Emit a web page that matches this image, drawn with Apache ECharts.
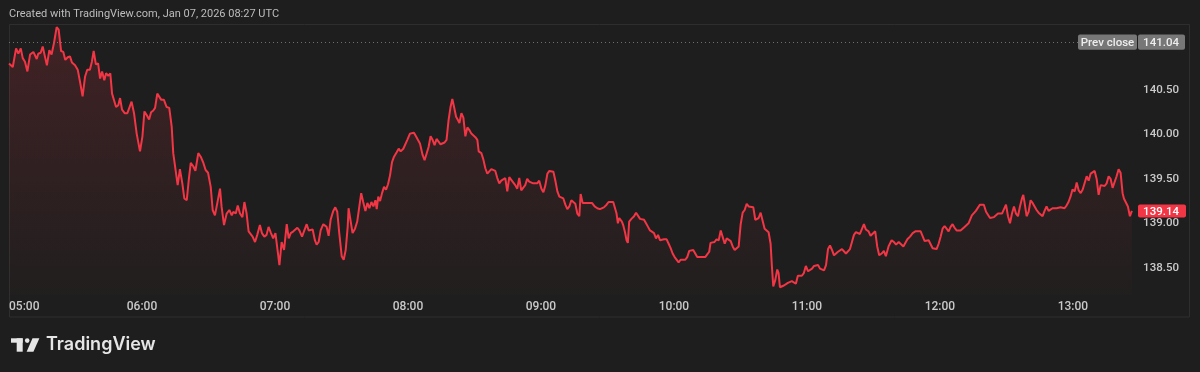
<!DOCTYPE html>
<html><head><meta charset="utf-8">
<script src="https://cdn.jsdelivr.net/npm/echarts@6/dist/echarts.min.js"></script>
<style>html,body{margin:0;padding:0;background:#1e1e1e;}#c{width:1200px;height:372px;}</style>
</head><body><div id="c"></div>
<script>
const headerText = 'Created with TradingView.com, Jan 07, 2026 08:27 UTC';
const brandText = 'TradingView';
// minutes since 05:00
const minutes = [
0,1.7,3.2,4.2,5.3,6.2,7.2,8.3,9.5,11.0,11.9,12.5,13.2,14.3,15.2,16.2,17.1,18.2,19.2,20.3,
21.5,22.4,23.5,24.5,25.4,26.5,27.5,28.4,29.8,31.0,32.0,33.2,34.3,35.3,36.5,37.4,38.2,39.2,40.2,41.1,
42.0,43.0,43.8,44.8,45.7,46.5,47.4,48.3,49.3,50.1,51.0,52.2,53.4,54.3,55.3,56.4,57.6,59.1,60.2,61.1,
62.1,63.2,64.1,65.1,65.9,66.9,67.8,68.7,69.9,71.1,72.3,73.4,74.1,76.1,77.1,78.2,79.1,80.2,81.1,82.0,
83.2,84.1,85.4,86.5,87.7,88.7,89.8,91.0,91.9,92.9,94.0,95.2,95.9,97.0,98.2,99.4,100.5,101.2,102.3,103.2,
104.2,105.3,106.2,107.2,108.1,109.0,109.9,111.0,112.0,113.2,114.1,115.2,116.2,117.1,118.2,119.2,120.2,121.1,122.0,123.0,
124.1,125.3,126.2,127.1,128.3,129.2,130.1,131.0,
132.2,133.1,134.3,135.2,136.1,137.0,138.0,138.8,139.7,140.6,141.8,142.7,143.3,144.2,145.1,146.3,147.2,148.1,149.0,150.1,
151.0,151.9,152.8,153.2,154.1,155.0,156.1,157.1,158.0,158.9,159.8,160.8,161.7,162.6,163.5,164.4,165.3,165.9,166.6,167.4,
168.3,169.2,170.1,171.0,171.9,172.8,173.7,174.9,175.8,176.7,177.9,178.8,179.7,180.9,181.8,182.7,183.6,184.5,185.4,186.6,
187.5,188.4,189.3,190.2,191.1,192.0,192.9,193.8,194.7,195.6,196.5,197.4,198.3,199.2,200.0,200.8,201.7,202.6,203.2,204.1,
205.0,205.9,206.8,207.7,208.6,209.5,210.4,211.3,211.9,213.1,214.0,214.9,215.8,216.7,217.6,218.5,219.4,220.3,221.2,222.1,
223.0,223.9,224.8,225.7,226.6,227.5,228.4,229.3,230.2,231.1,232.0,232.9,233.8,234.7,235.6,236.5,237.4,238.3,239.2,240.2,
241.1,242.0,242.9,243.8,244.7,245.6,246.5,247.4,248.3,249.2,250.1,251.0,251.9,252.8,253.7,254.6,255.5,256.4,257.3,
257.9,258.8,260.0,261.2,262.1,263.0,264.2,265.4,266.6,267.5,268.4,269.6,270.5,271.4,272.6,273.2,274.1,274.7,275.3,275.9,
276.5,277.1,278.0,278.6,279.2,279.8,280.8,282.0,282.9,283.8,284.7,285.6,286.5,287.4,288.3,289.2,290.1,291.0,291.9,292.8,
293.7,294.6,295.5,296.7,297.6,298.5,299.4,300.3,301.2,302.1,303.0,303.9,305.1,306.0,306.9,307.8,308.7,309.6,310.5,311.4,
312.3,313.2,314.1,315.0,315.9,316.5,317.4,318.3,319.2,320.2,321.1,322.0,322.9,323.8,324.7,325.6,326.5,327.4,328.3,329.2,
330.1,331.0,331.9,332.8,333.7,334.6,335.8,336.7,337.3,338.2,339.1,340.0,340.9,341.8,342.7,343.6,344.2,344.8,345.7,346.6,
347.2,347.8,348.7,349.6,350.5,351.4,352.3,353.2,354.1,355.0,355.9,356.8,357.7,358.6,359.5,360.5,361.4,362.3,363.2,364.1,
365.0,365.9,366.8,367.7,368.6,369.5,370.4,371.3,372.2,373.1,374.0,374.9,375.8,376.7,377.6,378.5,379.4,380.3,381.2,382.1,
383.0,383.9,
385.7,386.6,387.8,388.7,389.6,390.8,391.7,392.6,393.7,394.7,395.6,396.8,398.2,399.2,400.2,401.4,402.3,403.5,404.4,405.3,
406.5,407.7,408.9,410.1,411.3,412.2,413.1,414.0,414.9,415.8,416.7,417.6,418.5,419.4,420.3,421.2,422.1,423.0,423.9,424.8,
425.7,426.6,427.5,428.4,429.3,430.2,431.1,432.0,432.9,433.8,434.4,435.3,436.2,437.1,438.0,438.9,439.8,440.8,441.7,442.6,
443.5,444.4,445.3,446.2,447.1,448.0,448.9,449.8,450.7,451.6,452.5,453.4,454.3,455.2,456.1,457.0,457.6,458.2,459.1,460.0,
460.9,461.8,462.7,463.6,464.5,465.4,466.3,467.2,468.1,469.0,469.9,470.8,471.7,472.6,473.5,474.4,475.3,476.2,477.1,478.0,
478.9,479.8,480.8,481.7,482.6,483.5,484.4,485.3,486.2,487.1,488.0,488.9,489.8,490.7,491.6,492.5,493.4,494.3,495.2,496.1,
497.0,497.9,498.8,499.7,500.6,501.5,502.4,503.0,503.9,504.8,505.7,506.6
];
const prices = [
140.80,140.76,140.97,140.91,140.97,140.86,140.82,140.71,140.90,140.93,140.91,140.85,140.91,140.92,140.99,140.88,140.78,140.95,140.90,141.03,
141.21,141.18,140.94,140.93,140.84,140.87,140.88,140.81,140.78,140.73,140.60,140.43,140.65,140.73,140.73,140.82,140.94,140.79,140.80,140.63,
140.71,140.61,140.69,140.66,140.69,140.46,140.48,140.31,140.33,140.41,140.28,140.24,140.24,140.22,140.37,140.24,140.01,139.81,139.98,140.26,
140.22,140.17,140.25,140.27,140.30,140.46,140.46,140.39,140.39,140.31,140.30,140.09,139.79,139.43,139.61,139.45,139.28,139.26,139.49,139.68,
139.64,139.59,139.79,139.75,139.68,139.60,139.57,139.41,139.15,139.09,139.23,139.39,139.19,138.98,139.11,139.15,139.09,139.13,139.11,139.20,
139.11,139.07,139.24,139.11,138.91,138.93,138.85,138.79,138.87,138.98,138.89,138.85,138.87,138.96,138.89,138.83,138.89,138.89,138.53,138.79,
138.70,138.99,138.83,138.89,138.91,138.92,138.95,138.92,
138.85,138.87,138.99,138.92,138.94,138.93,138.81,138.76,138.79,138.92,138.99,139.00,138.96,138.86,139.04,139.14,139.18,139.13,138.89,138.63,
138.59,138.70,138.96,139.17,139.19,138.89,138.94,139.02,139.04,139.34,139.24,139.14,139.23,139.17,139.24,139.19,139.26,139.16,139.30,139.25,
139.34,139.41,139.38,139.44,139.54,139.69,139.75,139.80,139.84,139.81,139.84,139.86,139.94,140.01,139.99,140.02,139.98,139.98,139.90,139.77,
139.71,139.71,139.86,139.98,139.94,139.88,139.95,139.92,139.89,139.89,139.91,139.94,140.16,140.31,140.40,140.31,140.20,140.16,140.13,140.24,
140.19,139.98,140.08,140.05,140.01,140.00,139.97,139.94,139.81,139.79,139.72,139.62,139.56,139.58,139.61,139.59,139.59,139.51,139.45,139.48,
139.48,139.51,139.36,139.52,139.49,139.50,139.43,139.39,139.51,139.37,139.39,139.43,139.50,139.47,139.46,139.45,139.44,139.45,139.48,139.39,
139.35,139.43,139.56,139.59,139.57,139.58,139.48,139.36,139.30,139.32,139.28,139.21,139.16,139.19,139.26,139.26,139.22,139.11,139.08,
139.33,139.23,139.23,139.23,139.24,139.23,139.19,139.17,139.16,139.18,139.18,139.21,139.24,139.25,139.24,139.24,139.11,139.00,139.06,139.08,
139.02,138.98,138.89,138.81,138.78,139.02,139.05,139.08,139.12,139.11,139.05,139.05,139.04,139.00,138.96,138.92,138.91,138.89,138.83,138.87,
138.81,138.79,138.82,138.82,138.77,138.72,138.66,138.62,138.62,138.56,138.59,138.60,138.59,138.62,138.69,138.71,138.70,138.66,138.62,138.60,
138.62,138.64,138.62,138.65,138.68,138.78,138.78,138.79,138.82,138.81,138.92,138.90,138.77,138.83,138.83,138.80,138.74,138.70,138.69,138.74,
138.99,139.12,139.15,139.22,139.19,139.19,139.18,139.04,139.02,139.06,139.12,139.12,138.94,138.92,138.90,138.77,138.51,138.29,138.36,138.48,
138.44,138.28,138.29,138.30,138.31,138.33,138.35,138.35,138.34,138.32,138.41,138.40,138.41,138.44,138.52,138.46,138.47,138.49,138.52,138.54,
138.53,138.49,138.49,138.47,138.53,138.71,138.75,138.70,138.64,138.66,138.68,138.69,138.71,138.72,138.66,138.67,138.71,138.79,138.87,138.90,
138.89,138.88,
138.99,138.93,138.91,138.86,138.88,138.91,138.74,138.64,138.66,138.69,138.63,138.74,138.81,138.79,138.76,138.79,138.77,138.74,138.74,138.82,
138.85,138.89,138.91,138.91,138.91,138.89,138.80,138.81,138.81,138.79,138.72,138.71,138.71,138.77,138.85,138.94,138.97,138.94,138.91,138.96,
138.99,138.95,138.92,138.91,138.92,138.92,138.96,138.96,139.00,138.99,139.09,139.07,139.14,139.12,139.21,139.23,139.21,139.13,139.11,139.06,
139.05,139.07,139.09,139.11,139.09,139.11,139.12,139.21,139.08,139.00,139.11,139.19,139.11,139.08,139.19,139.28,139.32,139.23,139.08,139.13,
139.26,139.23,139.23,139.15,139.12,139.13,139.08,139.14,139.19,139.14,139.15,139.17,139.16,139.17,139.16,139.18,139.18,139.17,139.20,139.24,
139.30,139.38,139.36,139.46,139.37,139.34,139.38,139.36,139.53,139.48,139.56,139.57,139.59,139.50,139.32,139.43,139.43,139.42,139.45,139.53,
139.50,139.40,139.41,139.53,139.61,139.57,139.34,139.28,139.27,139.19,139.08,139.14
];
const timeTicks = [0,60,120,180,240,300,360,420,480];
const timeLabels = ['05:00','06:00','07:00','08:00','09:00','10:00','11:00','12:00','13:00'];
const priceTicks = [138.5,139.0,139.5,140.0,140.5];
const prevClose = 141.04;
const prevCloseText = 'Prev close';
const lastPrice = 139.14;

const RED = '#F23645';
const BG = '#1e1e1e';
const FONT = 'Roboto';
const LABEL = '#c9c9c9';

const n = Math.min(minutes.length, prices.length);
const seriesData = [];
for (let i = 0; i < n; i++) seriesData.push([minutes[i], prices[i]]);

const chart = echarts.init(document.getElementById('c'), null, {renderer: 'canvas'});
chart.setOption({
  backgroundColor: BG,
  animation: false,
  grid: {left: 9, right: 65, top: 25, bottom: 77, containLabel: false},
  xAxis: {
    type: 'value', min: 0, max: 508,
    axisLine: {show: false}, axisTick: {show: false}, splitLine: {show: false},
    axisLabel: {
      customValues: timeTicks,
      formatter: v => { const i = timeTicks.indexOf(v); return i >= 0 ? timeLabels[i] : ''; },
      color: LABEL, fontFamily: FONT, fontSize: 12, fontWeight: 500,
      margin: 6, alignMinLabel: 'left'
    }
  },
  yAxis: {
    type: 'value', position: 'right', min: 138.193, max: 141.233,
    axisLine: {show: false}, axisTick: {show: false}, splitLine: {show: false},
    axisLabel: {
      customValues: priceTicks,
      formatter: v => v.toFixed(2),
      color: LABEL, fontFamily: FONT, fontSize: 11.5, fontWeight: 500,
      align: 'right', margin: 44, padding: [4, 0, 0, 0]
    }
  },
  series: [{
    type: 'line',
    data: seriesData,
    showSymbol: false,
    symbol: 'none',
    lineStyle: {color: RED, width: 2},
    areaStyle: {
      color: new echarts.graphic.LinearGradient(0, 0, 0, 1, [
        {offset: 0, color: 'rgba(242,54,69,0.24)'},
        {offset: 1, color: 'rgba(242,54,69,0.02)'}
      ])
    },
    markLine: {
      silent: true, symbol: 'none', animation: false,
      label: {show: false},
      lineStyle: {color: '#707070', type: [1, 3], width: 1},
      data: [{yAxis: prevClose}]
    }
  }]
});

const yPrev = chart.convertToPixel({yAxisIndex: 0}, prevClose);
const yLast = chart.convertToPixel({yAxisIndex: 0}, lastPrice);
chart.setOption({graphic: [
  {type: 'rect', shape: {x: 9.5, y: 24.5, width: 1180, height: 292.5}, style: {fill: null, stroke: '#2e2e2e', lineWidth: 1}, silent: true, z: 0},
  {type: 'text', x: 9, y: 14, style: {text: headerText, fill: '#bdbdbd', font: '11px ' + FONT, verticalAlign: 'middle'}},
  {type: 'rect', shape: {x: 11, y: 338.3, width: 11.7, height: 4.4}, style: {fill: '#e6e6e6'}},
  {type: 'rect', shape: {x: 16.7, y: 338.3, width: 6, height: 13.4}, style: {fill: '#e6e6e6'}},
  {type: 'circle', shape: {cx: 27.2, cy: 340.6, r: 2.3}, style: {fill: '#e6e6e6'}},
  {type: 'polygon', shape: {points: [[32.5, 338.3], [39.4, 338.3], [33.4, 351.7], [26.6, 351.7]]}, style: {fill: '#e6e6e6'}},
  {type: 'text', x: 46, y: 345, style: {text: brandText, fill: '#e6e6e6', font: '600 18px Inter', verticalAlign: 'middle'}},
  {type: 'rect', shape: {x: 1078, y: yPrev - 7.7, width: 59, height: 15.4, r: 2}, style: {fill: '#777777'}, z: 10},
  {type: 'rect', shape: {x: 1138, y: yPrev - 7.7, width: 47, height: 15.4, r: 2}, style: {fill: '#777777'}, z: 10},
  {type: 'text', x: 1107.5, y: yPrev + 1, style: {text: prevCloseText, fill: '#ededed', font: '500 11.5px ' + FONT, align: 'center', verticalAlign: 'middle'}, z: 11},
  {type: 'text', x: 1179, y: yPrev + 1, style: {text: prevClose.toFixed(2), fill: '#ededed', font: '500 11.5px ' + FONT, align: 'right', verticalAlign: 'middle'}, z: 11},
  {type: 'rect', shape: {x: 1138, y: yLast - 6.5, width: 48, height: 13, r: 2}, style: {fill: RED}, z: 10},
  {type: 'text', x: 1179, y: yLast + 1, style: {text: lastPrice.toFixed(2), fill: '#ffffff', font: '500 11.5px ' + FONT, align: 'right', verticalAlign: 'middle'}, z: 11}
]});
</script></body></html>
